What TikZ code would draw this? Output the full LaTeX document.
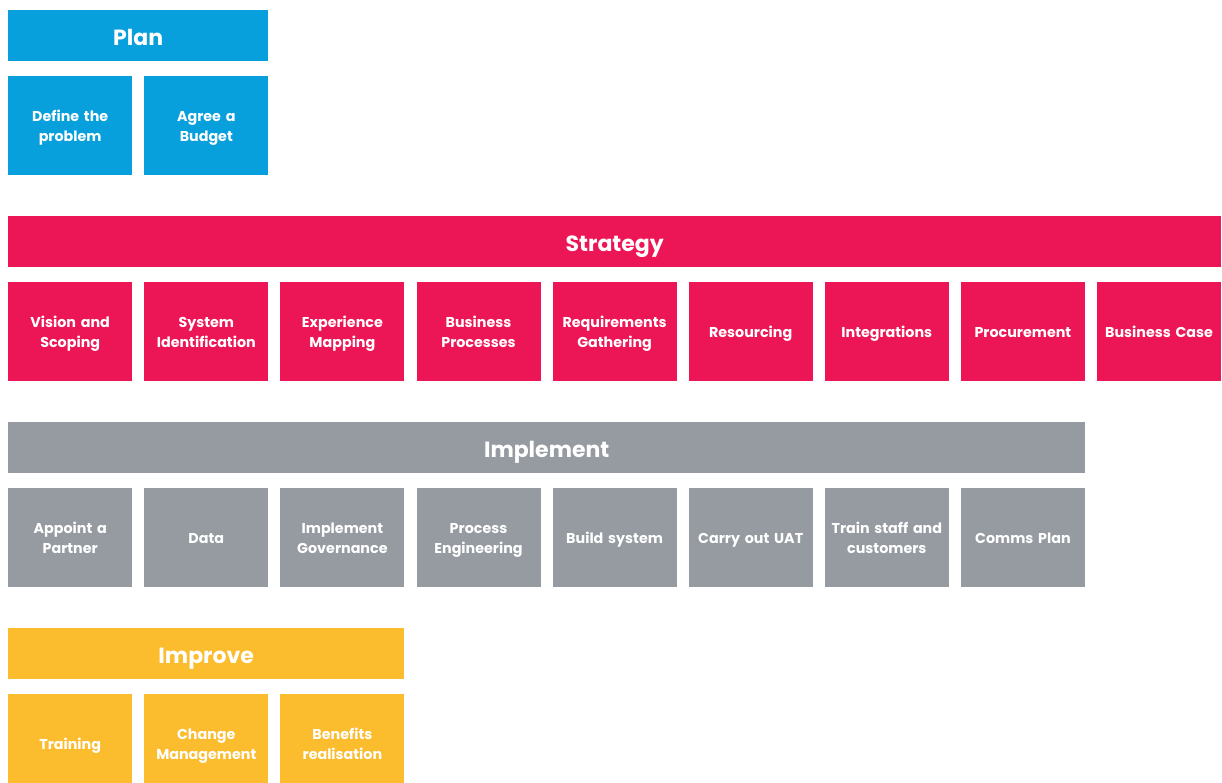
\documentclass[tikz,border=0pt]{standalone}
\usepackage{fontspec}
\setmainfont{Poppins}
\begin{document}
\definecolor{planblue}{HTML}{079FDC}
\definecolor{strategypink}{HTML}{EC1556}
\definecolor{implementgrey}{HTML}{959BA0}
\definecolor{improveyellow}{HTML}{FBBC2E}
\begin{tikzpicture}[x=1pt,y=-1pt,
  header/.style={fill=#1, text=white, inner sep=0pt, anchor=north west,
    minimum height=51pt, text height=19pt, text depth=0pt,
    font=\fontsize{22}{24}\selectfont\bfseries},
  task/.style={fill=#1, text=white, inner sep=0pt, anchor=north west,
    minimum width=124pt, minimum height=99pt, text width=122pt, align=center,
    execute at begin node={\rule{0pt}{18pt}}, execute at end node=\strut,
    font=\fontsize{14.3}{20}\selectfont\bfseries}]
\clip (0,0) rectangle (1222,782);
\fill[white] (0,0) rectangle (1222,782);

% Plan
\node[header=planblue, minimum width=260pt] (plan) at (8,10) {Plan};
\foreach \t [count=\i from 0] in {{Define the\\problem},{Agree a\\Budget}}
  \node[task=planblue] (plan\i) at (8+\i*136.1,76) {\t};

% Strategy
\node[header=strategypink, minimum width=1213pt] (strategy) at (8,216) {Strategy};
\foreach \t [count=\i from 0] in {{Vision and\\Scoping},{System\\Identification},
    {Experience\\Mapping},{Business\\Processes},{Requirements\\Gathering},
    {Resourcing},{Integrations},{Procurement},{Business Case}}
  \node[task=strategypink] (strategy\i) at (8+\i*136.1,282) {\t};

% Implement
\node[header=implementgrey, minimum width=1077pt] (implement) at (8,422) {Implement};
\foreach \t [count=\i from 0] in {{Appoint a\\Partner},{Data},{Implement\\Governance},
    {Process\\Engineering},{Build system},{Carry out UAT},
    {Train staff and\\customers},{Comms Plan}}
  \node[task=implementgrey] (implement\i) at (8+\i*136.1,488) {\t};

% Improve
\node[header=improveyellow, minimum width=396pt] (improve) at (8,628) {Improve};
\foreach \t [count=\i from 0] in {{Training},{Change\\Management},{Benefits\\realisation}}
  \node[task=improveyellow] (improve\i) at (8+\i*136.1,694) {\t};
\end{tikzpicture}
\end{document}
